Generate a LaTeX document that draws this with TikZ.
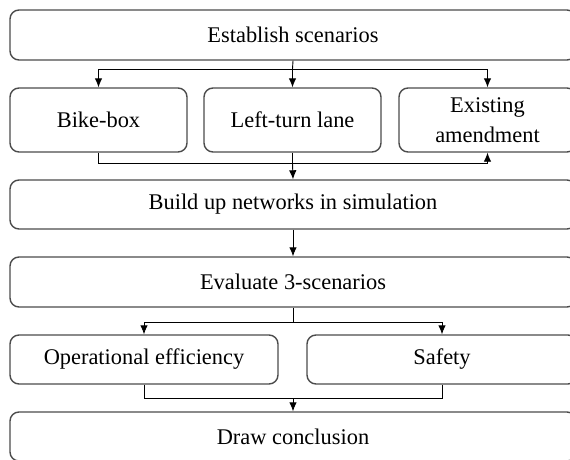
\documentclass[tikz,border=0pt]{standalone}
\usepackage{fontspec}
\setmainfont{Liberation Serif}
\usetikzlibrary{arrows.meta}

\newlength{\du}
\setlength{\du}{1pt}

\definecolor{boxcolor}{rgb}{0.300000, 0.300000, 0.300000}
\definecolor{dialinecolor}{rgb}{0.000000, 0.000000, 0.000000}

\tikzset{
  stepbox/.style={draw=boxcolor, line width=1.4\du, rounded corners=9\du,
    inner sep=0pt, align=center, text=dialinecolor,
    font=\fontsize{22.4}{30}\selectfont},
  link/.style={draw=dialinecolor, line width=0.9\du},
  flow/.style={link, -{Latex[length=9pt,width=7.5pt]}},
}

\begin{document}
\begin{tikzpicture}
\pgftransformxscale{1.000000}
\pgftransformyscale{-1.000000}
\useasboundingbox (0\du,0\du) rectangle (570\du,460\du);
% top row
\node[stepbox, minimum width=566\du, minimum height=50\du] (est) at (293\du,35\du){Establish scenarios};
% scenarios
\node[stepbox, minimum width=177\du, minimum height=64\du] (bike) at (98.5\du,120\du){Bike-box};
\node[stepbox, minimum width=177\du, minimum height=64\du] (left) at (292.5\du,120\du){Left-turn lane};
\node[stepbox, minimum width=177\du, minimum height=64\du] (exist) at (487.5\du,120\du){Existing\\amendment};
% simulation
\node[stepbox, minimum width=566\du, minimum height=49\du] (build) at (293\du,204.5\du){Build up networks in simulation};
\node[stepbox, minimum width=566\du, minimum height=50\du] (eval) at (293\du,282\du){Evaluate 3-scenarios};
% criteria
\node[stepbox, minimum width=268\du, minimum height=49\du] (oper) at (144\du,359.5\du){Operational efficiency};
\node[stepbox, minimum width=270\du, minimum height=49\du] (safe) at (442\du,359.5\du){Safety};
\node[stepbox, minimum width=566\du, minimum height=49\du] (concl) at (293\du,436.5\du){Draw conclusion};
% split and merge points
\coordinate (s1) at (292.5\du,69\du);
\coordinate (m1) at (292.5\du,163\du);
\coordinate (s2) at (293\du,322\du);
\coordinate (m2) at (293\du,398\du);
% was here!!!
\draw[link] (est.south) -- (s1);
\draw[flow] (s1) -| (bike.north);
\draw[flow] (s1) -- (left.north);
\draw[flow] (s1) -| (exist.north);
\draw[link] (bike.south) |- (m1);
\draw[link] (left.south) -- (m1);
\draw[flow] (m1) -| (exist.south);
\draw[flow] (m1) -- (build.north);
\draw[flow] (build.south) -- (eval.north);
\draw[link] (eval.south) -- (s2);
\draw[flow] (s2) -| (oper.north);
\draw[flow] (s2) -| (safe.north);
\draw[link] (oper.south) |- (m2);
\draw[link] (safe.south) |- (m2);
\draw[flow] (m2) -- (concl.north);
\end{tikzpicture}
\end{document}
